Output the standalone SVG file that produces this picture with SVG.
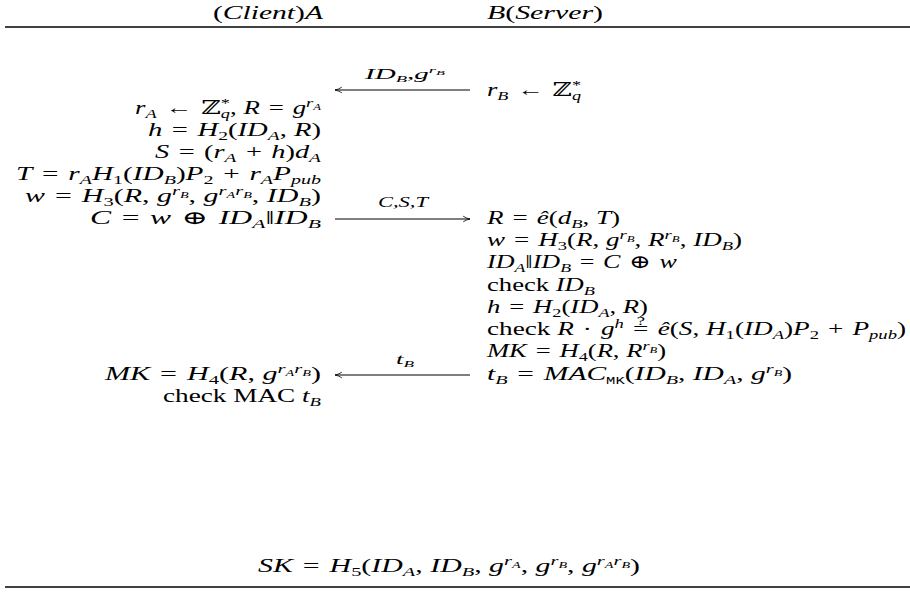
<svg xmlns="http://www.w3.org/2000/svg" width="910" height="592" viewBox="0 0 910 592">
<style>
text{font-family:"Liberation Serif","DejaVu Serif",serif;font-size:19px;fill:#000}
.i{font-style:italic}
.b{font-size:13px}
.c{font-size:9px}
.d{font-size:7px}
.l{font-size:14px}
.mono{font-family:"Liberation Mono",monospace;font-size:10px}
.rule{stroke:#000;stroke-width:1.3}
.arr{stroke:#000;stroke-width:1.1;fill:none}
</style>
<defs>
<marker id="ah" viewBox="0 0 10 10" refX="9.5" refY="5" markerWidth="8" markerHeight="8" orient="auto" markerUnits="userSpaceOnUse">
<path d="M1,1.5 Q5,4.2 9.5,5 Q5,5.8 1,8.5" fill="none" stroke="#000" stroke-width="1"/>
</marker>
</defs>
<g id="header">
<text x="323" y="19" text-anchor="end" textLength="110" lengthAdjust="spacingAndGlyphs">(<tspan class="i">Client</tspan>)<tspan class="i">A</tspan></text>
<text x="487" y="19" textLength="116" lengthAdjust="spacingAndGlyphs"><tspan class="i">B</tspan>(<tspan class="i">Server</tspan>)</text>
<line class="rule" x1="5" y1="27" x2="910" y2="27"/>
</g>
<g id="client">
<text x="321" y="114" text-anchor="end" textLength="186" lengthAdjust="spacingAndGlyphs"><tspan class="i">r</tspan><tspan class="b i" dy="4">A</tspan><tspan dy="-4">&#8196;←&#8196;ℤ</tspan><tspan class="b" dy="-7">*</tspan><tspan class="b i" dx="-6.5" dy="11">q</tspan><tspan dy="-4">, </tspan><tspan class="i">R</tspan>&#8196;=&#8196;<tspan class="i">g</tspan><tspan class="b i" dy="-7">r</tspan><tspan class="c i" dy="3">A</tspan></text>
<text x="321" y="136" text-anchor="end" textLength="173" lengthAdjust="spacingAndGlyphs"><tspan class="i">h</tspan>&#8196;=&#8196;<tspan class="i">H</tspan><tspan class="b" dy="4">2</tspan><tspan dy="-4">(</tspan><tspan class="i">ID</tspan><tspan class="b i" dy="4">A</tspan><tspan dy="-4">, </tspan><tspan class="i">R</tspan>)</text>
<text x="321" y="158" text-anchor="end" textLength="166" lengthAdjust="spacingAndGlyphs"><tspan class="i">S</tspan>&#8196;=&#8196;(<tspan class="i">r</tspan><tspan class="b i" dy="4">A</tspan><tspan dy="-4">&#8196;+&#8196;</tspan><tspan class="i">h</tspan>)<tspan class="i">d</tspan><tspan class="b i" dy="4">A</tspan></text>
<text x="321" y="180" text-anchor="end" textLength="305" lengthAdjust="spacingAndGlyphs"><tspan class="i">T</tspan>&#8196;=&#8196;<tspan class="i">r</tspan><tspan class="b i" dy="4">A</tspan><tspan class="i" dy="-4">H</tspan><tspan class="b" dy="4">1</tspan><tspan dy="-4">(</tspan><tspan class="i">ID</tspan><tspan class="b i" dy="4">B</tspan><tspan dy="-4">)</tspan><tspan class="i">P</tspan><tspan class="b" dy="4">2</tspan><tspan dy="-4">&#8196;+&#8196;</tspan><tspan class="i">r</tspan><tspan class="b i" dy="4">A</tspan><tspan class="i" dy="-4">P</tspan><tspan class="b i" dy="4">pub</tspan></text>
<text x="321" y="202" text-anchor="end" textLength="296" lengthAdjust="spacingAndGlyphs"><tspan class="i">w</tspan>&#8196;=&#8196;<tspan class="i">H</tspan><tspan class="b" dy="4">3</tspan><tspan dy="-4">(</tspan><tspan class="i">R</tspan>, <tspan class="i">g</tspan><tspan class="b i" dy="-7">r</tspan><tspan class="c i" dy="3">B</tspan><tspan dy="4">, </tspan><tspan class="i">g</tspan><tspan class="b i" dy="-7">r</tspan><tspan class="c i" dy="3">A</tspan><tspan class="b i" dy="-3">r</tspan><tspan class="c i" dy="3">B</tspan><tspan dy="4">, </tspan><tspan class="i">ID</tspan><tspan class="b i" dy="4">B</tspan><tspan dy="-4">)</tspan></text>
<text x="321" y="224" text-anchor="end" textLength="231" lengthAdjust="spacingAndGlyphs"><tspan class="i">C</tspan>&#8196;=&#8196;<tspan class="i">w</tspan>&#8196;⊕&#8196;<tspan class="i">ID</tspan><tspan class="b i" dy="4">A</tspan><tspan dy="-4">‖</tspan><tspan class="i">ID</tspan><tspan class="b i" dy="4">B</tspan></text>
<text x="321" y="380" text-anchor="end" textLength="216" lengthAdjust="spacingAndGlyphs"><tspan class="i">MK</tspan>&#8196;=&#8196;<tspan class="i">H</tspan><tspan class="b" dy="4">4</tspan><tspan dy="-4">(</tspan><tspan class="i">R</tspan>, <tspan class="i">g</tspan><tspan class="b i" dy="-7">r</tspan><tspan class="c i" dy="3">A</tspan><tspan class="b i" dy="-3">r</tspan><tspan class="c i" dy="3">B</tspan><tspan dy="4">)</tspan></text>
<text x="321" y="402" text-anchor="end" textLength="158" lengthAdjust="spacingAndGlyphs">check MAC <tspan class="i">t</tspan><tspan class="b i" dy="4">B</tspan></text>
</g>
<g id="server">
<text x="487" y="96" textLength="94" lengthAdjust="spacingAndGlyphs"><tspan class="i">r</tspan><tspan class="b i" dy="4">B</tspan><tspan dy="-4">&#8196;←&#8196;ℤ</tspan><tspan class="b" dy="-7">*</tspan><tspan class="b i" dx="-6.5" dy="11">q</tspan></text>
<text x="487" y="224" textLength="133" lengthAdjust="spacingAndGlyphs"><tspan class="i">R</tspan>&#8196;=&#8196;<tspan class="i">ê</tspan>(<tspan class="i">d</tspan><tspan class="b i" dy="4">B</tspan><tspan dy="-4">, </tspan><tspan class="i">T</tspan>)</text>
<text x="487" y="246" textLength="255" lengthAdjust="spacingAndGlyphs"><tspan class="i">w</tspan>&#8196;=&#8196;<tspan class="i">H</tspan><tspan class="b" dy="4">3</tspan><tspan dy="-4">(</tspan><tspan class="i">R</tspan>, <tspan class="i">g</tspan><tspan class="b i" dy="-7">r</tspan><tspan class="c i" dy="3">B</tspan><tspan dy="4">, </tspan><tspan class="i">R</tspan><tspan class="b i" dy="-7">r</tspan><tspan class="c i" dy="3">B</tspan><tspan dy="4">, </tspan><tspan class="i">ID</tspan><tspan class="b i" dy="4">B</tspan><tspan dy="-4">)</tspan></text>
<text x="487" y="268" textLength="190" lengthAdjust="spacingAndGlyphs"><tspan class="i">ID</tspan><tspan class="b i" dy="4">A</tspan><tspan dy="-4">‖</tspan><tspan class="i">ID</tspan><tspan class="b i" dy="4">B</tspan><tspan dy="-4">&#8196;=&#8196;</tspan><tspan class="i">C</tspan>&#8196;⊕&#8196;<tspan class="i">w</tspan></text>
<text x="487" y="291" textLength="108" lengthAdjust="spacingAndGlyphs">check <tspan class="i">ID</tspan><tspan class="b i" dy="4">B</tspan></text>
<text x="487" y="313" textLength="161" lengthAdjust="spacingAndGlyphs"><tspan class="i">h</tspan>&#8196;=&#8196;<tspan class="i">H</tspan><tspan class="b" dy="4">2</tspan><tspan dy="-4">(</tspan><tspan class="i">ID</tspan><tspan class="b i" dy="4">A</tspan><tspan dy="-4">, </tspan><tspan class="i">R</tspan>)</text>
<text x="487" y="335" textLength="419" lengthAdjust="spacingAndGlyphs">check <tspan class="i">R</tspan>&#8196;·&#8196;<tspan class="i">g</tspan><tspan class="b i" dy="-7">h</tspan><tspan dy="7">&#8196;=</tspan><tspan class="b" dx="-8" dy="-10">?</tspan><tspan dx="2.5" dy="10">&#8196;</tspan><tspan class="i">ê</tspan>(<tspan class="i">S</tspan>, <tspan class="i">H</tspan><tspan class="b" dy="4">1</tspan><tspan dy="-4">(</tspan><tspan class="i">ID</tspan><tspan class="b i" dy="4">A</tspan><tspan dy="-4">)</tspan><tspan class="i">P</tspan><tspan class="b" dy="4">2</tspan><tspan dy="-4">&#8196;+&#8196;</tspan><tspan class="i">P</tspan><tspan class="b i" dy="4">pub</tspan><tspan dy="-4">)</tspan></text>
<text x="487" y="357" textLength="179" lengthAdjust="spacingAndGlyphs"><tspan class="i">MK</tspan>&#8196;=&#8196;<tspan class="i">H</tspan><tspan class="b" dy="4">4</tspan><tspan dy="-4">(</tspan><tspan class="i">R</tspan>, <tspan class="i">R</tspan><tspan class="b i" dy="-7">r</tspan><tspan class="c i" dy="3">B</tspan><tspan dy="4">)</tspan></text>
<text x="487" y="380" textLength="305" lengthAdjust="spacingAndGlyphs"><tspan class="i">t</tspan><tspan class="b i" dy="4">B</tspan><tspan dy="-4">&#8196;=&#8196;</tspan><tspan class="i">MAC</tspan><tspan class="mono" dy="4">MK</tspan><tspan dy="-4">(</tspan><tspan class="i">ID</tspan><tspan class="b i" dy="4">B</tspan><tspan dy="-4">, </tspan><tspan class="i">ID</tspan><tspan class="b i" dy="4">A</tspan><tspan dy="-4">, </tspan><tspan class="i">g</tspan><tspan class="b i" dy="-7">r</tspan><tspan class="c i" dy="3">B</tspan><tspan dy="4">)</tspan></text>
</g>
<g id="connectors">
<line class="arr" x1="470" y1="90" x2="335" y2="90" marker-end="url(#ah)"/>
<text class="l" x="405" y="79" text-anchor="middle" textLength="80" lengthAdjust="spacingAndGlyphs"><tspan class="i">ID</tspan><tspan class="c i" dy="3">B</tspan><tspan dy="-3">,</tspan><tspan class="i">g</tspan><tspan class="c i" dy="-6">r</tspan><tspan class="d i" dy="2">B</tspan></text>
<line class="arr" x1="335" y1="219" x2="470" y2="219" marker-end="url(#ah)"/>
<text class="l i" x="403" y="207" text-anchor="middle" textLength="50" lengthAdjust="spacingAndGlyphs">C,S,T</text>
<line class="arr" x1="470" y1="375" x2="335" y2="375" marker-end="url(#ah)"/>
<text class="l" x="405" y="364" text-anchor="middle" textLength="18" lengthAdjust="spacingAndGlyphs"><tspan class="i">t</tspan><tspan class="c i" dy="3">B</tspan></text>
</g>
<g id="session-key">
<text x="258" y="572" textLength="382" lengthAdjust="spacingAndGlyphs"><tspan class="i">SK</tspan>&#8196;=&#8196;<tspan class="i">H</tspan><tspan class="b" dy="4">5</tspan><tspan dy="-4">(</tspan><tspan class="i">ID</tspan><tspan class="b i" dy="4">A</tspan><tspan dy="-4">, </tspan><tspan class="i">ID</tspan><tspan class="b i" dy="4">B</tspan><tspan dy="-4">, </tspan><tspan class="i">g</tspan><tspan class="b i" dy="-7">r</tspan><tspan class="c i" dy="3">A</tspan><tspan dy="4">, </tspan><tspan class="i">g</tspan><tspan class="b i" dy="-7">r</tspan><tspan class="c i" dy="3">B</tspan><tspan dy="4">, </tspan><tspan class="i">g</tspan><tspan class="b i" dy="-7">r</tspan><tspan class="c i" dy="3">A</tspan><tspan class="b i" dy="-3">r</tspan><tspan class="c i" dy="3">B</tspan><tspan dy="4">)</tspan></text>
<line class="rule" x1="5" y1="587" x2="910" y2="587"/>
</g>
</svg>
